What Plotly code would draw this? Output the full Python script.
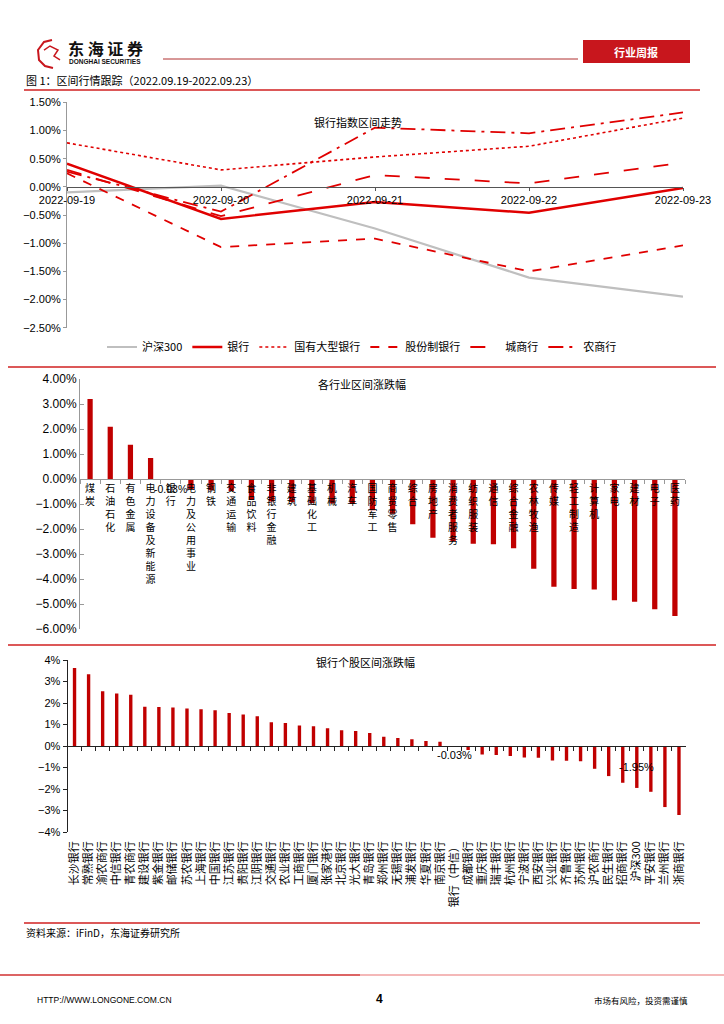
import plotly.graph_objects as go

W, H = 724, 1024
CJK = "Noto Sans CJK SC"
NUM = "Liberation Sans"
RED = "#C00000"


def fx(x):
    return x / W


def fy(y):
    return 1 - y / H


# ---------------- data ----------------
dates = ["2022-09-19", "2022-09-20", "2022-09-21", "2022-09-22", "2022-09-23"]
hs300 = [-0.10, 0.02, -0.74, -1.61, -1.95]
bank = [0.41, -0.57, -0.27, -0.46, -0.02]
big_state = [0.78, 0.30, 0.53, 0.72, 1.22]
joint_stock = [0.24, -1.07, -0.92, -1.50, -1.04]
city_comm = [0.30, -0.52, 0.21, 0.06, 0.43]
rural_comm = [0.27, -0.44, 1.05, 0.95, 1.32]

industries = ["煤炭", "石油石化", "有色金属", "电力设备及新能源", "银行", "电力及公用事业",
              "钢铁", "交通运输", "食品饮料", "非银行金融", "建筑", "基础化工", "机械",
              "汽车", "国防军工", "商贸零售", "综合", "房地产", "消费者服务", "纺织服装",
              "通信", "综合金融", "农林牧渔", "传媒", "轻工制造", "计算机", "家电",
              "建材", "电子", "医药"]
industry_chg = [3.20, 2.09, 1.37, 0.84, -0.03, -0.40, -0.45, -0.48, -0.84, -0.90,
                -0.92, -0.96, -0.98, -1.00, -1.25, -1.39, -1.81, -2.35, -2.48, -2.59,
                -2.61, -2.77, -3.59, -4.31, -4.40, -4.42, -4.85, -4.91, -5.21, -5.48]

banks = ["长沙银行", "常熟银行", "渝农商行", "中信银行", "青农商行", "建设银行", "紫金银行",
         "邮储银行", "苏农银行", "上海银行", "中国银行", "江苏银行", "贵阳银行", "江阴银行",
         "交通银行", "农业银行", "工商银行", "厦门银行", "张家港行", "北京银行", "光大银行",
         "青岛银行", "郑州银行", "无锡银行", "浦发银行", "华夏银行", "南京银行", "银行（中信）",
         "成都银行", "重庆银行", "瑞丰银行", "杭州银行", "宁波银行", "西安银行", "兴业银行",
         "齐鲁银行", "苏州银行", "沪农商行", "民生银行", "招商银行", "沪深300", "平安银行",
         "兰州银行", "浙商银行"]
bank_chg = [3.63, 3.34, 2.55, 2.44, 2.38, 1.82, 1.81, 1.79, 1.74, 1.71, 1.66, 1.54,
            1.46, 1.38, 1.10, 1.07, 0.95, 0.92, 0.82, 0.73, 0.70, 0.60, 0.43, 0.37,
            0.31, 0.23, 0.20, -0.03, -0.19, -0.39, -0.42, -0.47, -0.54, -0.55, -0.68,
            -0.69, -0.71, -1.06, -1.40, -1.71, -1.95, -2.13, -2.84, -3.21]
labelled_banks = ["银行（中信）", "沪深300"]

# ---------------- geometry ----------------
Y1 = [-2.5, 1.5]
Y2 = [-6, 4]
Y3 = [-4, 4]
dom1x = [fx(67), fx(683)]
dom1y = [fy(327.7), fy(102.3)]
dom2x = [fx(80), fx(685)]
dom2y = [fy(629), fy(379)]
dom3x = [fx(67.5), fx(686)]
dom3y = [fy(832), fy(660)]


def zero_pos(dom, rng):
    return dom[0] + (0 - rng[0]) / (rng[1] - rng[0]) * (dom[1] - dom[0])


fig = go.Figure()

# ---------------- chart 1: lines ----------------
series = [
    ("沪深300", hs300, dict(color="#BFBFBF", width=2.2, dash="solid")),
    ("银行", bank, dict(color="#E00000", width=2.4, dash="solid")),
    ("国有大型银行", big_state, dict(color="#E00000", width=1.6, dash="dot")),
    ("股份制银行", joint_stock, dict(color="#E00000", width=1.8, dash="dash")),
    ("城商行", city_comm, dict(color="#E00000", width=1.8, dash="longdash")),
    ("农商行", rural_comm, dict(color="#E00000", width=1.8, dash="longdashdot")),
]
for name, vals, ln in series:
    fig.add_trace(go.Scatter(x=dates, y=vals, name=name, mode="lines", line=ln,
                             xaxis="x", yaxis="y", showlegend=True))

# ---------------- chart 2: industries ----------------
ind_labels = ["<br>".join(list(s)) for s in industries]
fig.add_trace(go.Bar(x=ind_labels, y=industry_chg, marker_color=RED, width=0.26,
                     xaxis="x2", yaxis="y2", showlegend=False))

# ---------------- chart 3: banks ----------------
fig.add_trace(go.Bar(x=banks, y=bank_chg, marker_color=RED, width=0.24,
                     xaxis="x4", yaxis="y3", showlegend=False))
fig.add_trace(go.Bar(x=banks, y=bank_chg, marker_color="rgba(0,0,0,0)", width=0.24,
                     xaxis="x3", yaxis="y3", showlegend=False, hoverinfo="skip"))

axis_font = dict(family=NUM, size=11, color="#000")

fig.update_layout(
    template="none",
    width=W, height=H, margin=dict(l=0, r=0, t=0, b=0, autoexpand=False),
    paper_bgcolor="white", plot_bgcolor="rgba(0,0,0,0)",
    font=dict(family=CJK, size=11, color="#000"),
    barmode="overlay",
    xaxis=dict(domain=dom1x, anchor="free", position=zero_pos(dom1y, Y1), type="category",
               range=[0, 4], showline=True, linecolor="#555", linewidth=1,
               ticks="outside", ticklen=3, tickcolor="#555", showgrid=False,
               automargin=False, tickfont=dict(family=NUM, size=11)),
    yaxis=dict(domain=dom1y, anchor="x", range=Y1, dtick=0.5, tickformat=".2f",
               ticksuffix="%", showline=True, linecolor="#999", linewidth=1,
               ticks="outside", ticklen=3, tickcolor="#999", showgrid=False,
               zeroline=False, automargin=False, tickfont=axis_font),
    xaxis2=dict(domain=dom2x, anchor="free", position=zero_pos(dom2y, Y2), type="category",
                range=[-0.5, len(industries) - 0.5], showline=True, linecolor="#999",
                ticks="outside", tickson="boundaries", ticklen=4, tickcolor="#999",
                tickmode="linear", dtick=1, ticklabelstandoff=0,
                showgrid=False, tickangle=0, automargin=False,
                tickfont=dict(family=CJK, size=10)),
    yaxis2=dict(domain=dom2y, anchor="x2", range=Y2, dtick=1, tickformat=".2f",
                ticksuffix="%", showline=True, linecolor="#999", ticks="inside",
                ticklen=4, tickcolor="#999", showgrid=False, zeroline=False,
                automargin=False, tickfont=dict(family=NUM, size=12)),
    xaxis3=dict(domain=dom3x, anchor="y3", type="category",
                range=[-0.5, len(banks) - 0.5], showline=False, ticks="",
                tickmode="linear", dtick=1, ticklabelstandoff=6,
                showgrid=False, tickangle=-90, automargin=False,
                tickfont=dict(family=CJK, size=11)),
    xaxis4=dict(domain=dom3x, anchor="free", position=zero_pos(dom3y, Y3), overlaying="x3",
                type="category", range=[-0.5, len(banks) - 0.5], showline=True,
                linecolor="#222", ticks="outside", tickson="boundaries", ticklen=4,
                tickmode="linear", dtick=1,
                tickcolor="#222", showticklabels=False, showgrid=False, automargin=False),
    yaxis3=dict(domain=dom3y, anchor="x3", range=Y3, dtick=1, tickformat="d",
                ticksuffix="%", showline=True, linecolor="#222", ticks="outside",
                ticklen=4, tickcolor="#222", showgrid=False, zeroline=False,
                automargin=False, tickfont=axis_font),
    legend=dict(orientation="h", x=0.5, xanchor="center", y=fy(347), yanchor="middle",
                font=dict(family=CJK, size=11), bgcolor="rgba(0,0,0,0)",
                itemwidth=30, tracegroupgap=0),
)


def pa(text, x, y, size=11, color="#000", family=CJK, xanchor="center"):
    return dict(text=text, x=fx(x), y=fy(y), xref="paper", yref="paper",
                xanchor=xanchor, yanchor="middle", showarrow=False,
                font=dict(family=family, size=size, color=color))


ann = []
# chart titles
ann.append(pa("银行指数区间走势", 358, 122))
ann.append(pa("各行业区间涨跌幅", 362, 384))
ann.append(pa("银行个股区间涨跌幅", 365, 662))

# data labels
i_bank = industries.index("银行")
ann.append(dict(text=f"{industry_chg[i_bank]:.2f}%", x=ind_labels[i_bank], y=industry_chg[i_bank],
                xref="x2", yref="y2", showarrow=False, yshift=-9, yanchor="middle",
                font=dict(family=NUM, size=10.5)))
for b in labelled_banks:
    i = banks.index(b)
    v = bank_chg[i]
    ann.append(dict(text=f"{v:.2f}%", x=b, y=v / 2 if v < -0.5 else v, xref="x3", yref="y3",
                    showarrow=False, yshift=0 if v < -0.5 else -8, yanchor="middle",
                    font=dict(family=NUM, size=11)))

# header / footer texts
ann.append(pa("<b>东 海 证 券</b>", 66, 48, size=16, color="#111", xanchor="left"))
ann.append(pa("<b>DONGHAI SECURITIES</b>", 67, 61, size=6.5, color="#111", family=NUM,
              xanchor="left"))
ann.append(pa("<b>行业周报</b>", 636, 51.5, size=11, color="white"))
ann.append(pa("图 1：区间行情跟踪（2022.09.19-2022.09.23）", 24, 80, xanchor="left"))
ann.append(pa("资料来源：iFinD，东海证券研究所", 24, 932, size=10, xanchor="left"))
ann.append(pa("HTTP://WWW.LONGONE.COM.CN", 35, 1000, size=8.5, family=NUM, xanchor="left"))
ann.append(pa("<b>4</b>", 379, 999, size=12, family=NUM))
ann.append(pa("市场有风险，投资需谨慎", 690, 1000, size=8.5, xanchor="right"))
fig.update_layout(annotations=ann)


def pline(x0, y0, x1, y1, color, width):
    return dict(type="line", xref="paper", yref="paper", x0=fx(x0), y0=fy(y0),
                x1=fx(x1), y1=fy(y1), line=dict(color=color, width=width))


def ppath(pts, color, width):
    d = "M " + " L ".join(f"{fx(x):.5f},{fy(y):.5f}" for x, y in pts)
    return dict(type="path", xref="paper", yref="paper", path=d,
                line=dict(color=color, width=width))


shapes = [
    pline(163, 59, 578, 59, "#B03030", 1),
    dict(type="rect", xref="paper", yref="paper", x0=fx(583), x1=fx(690), y0=fy(63),
         y1=fy(40), fillcolor="#C8161D", line=dict(width=0)),
    pline(24, 90, 700, 90, "#D02020", 1.5),
    pline(8, 367, 716, 367, "#D02020", 1.5),
    pline(8, 645, 716, 645, "#D02020", 1.5),
    pline(24, 923, 700, 923, "#D02020", 1.5),
    pline(0, 975, 360, 975, "#D03030", 1.5),
    pline(360, 975, 724, 975, "#F0A0A0", 1.5),
    # simple logo glyph
    ppath([(52, 40), (44, 42), (38, 50), (39, 60), (45, 66), (53, 68)], "#C8161D", 2),
    ppath([(44, 50), (50, 46), (58, 50), (54, 56), (60, 60)], "#C8161D", 1.5),
]
fig.update_layout(shapes=shapes)

fig.write_html("out.html", config={"displayModeBar": False},
               post_script="document.body.style.margin='0';")
